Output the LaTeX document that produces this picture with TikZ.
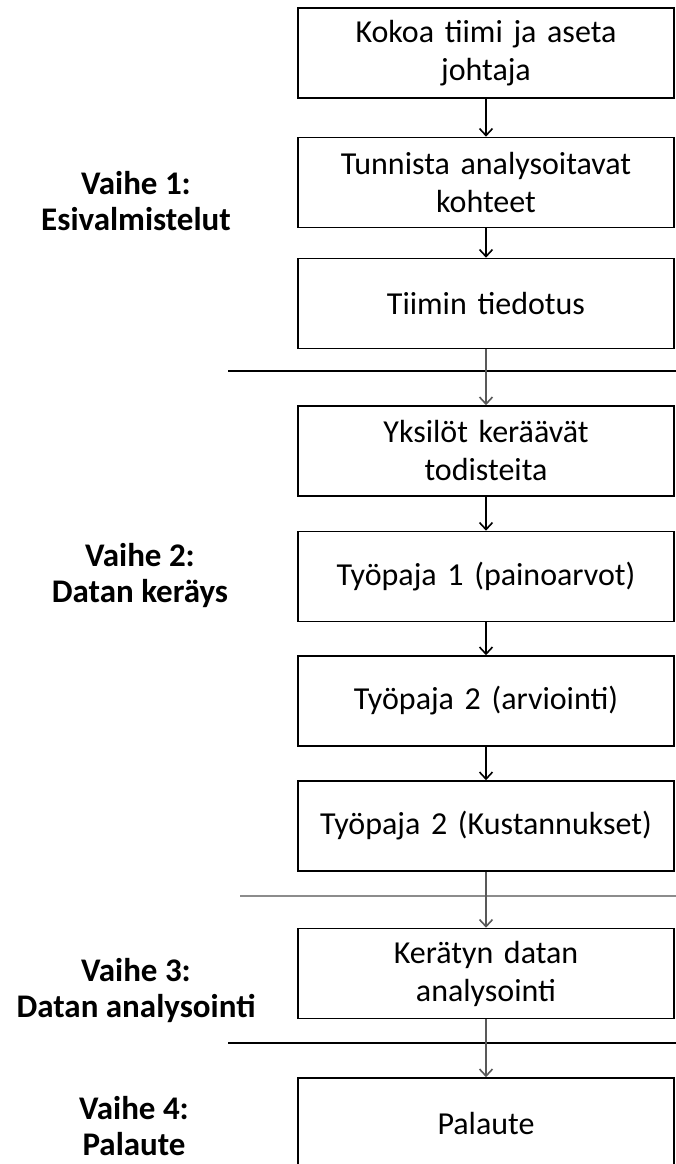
\documentclass[tikz,border=0pt]{standalone}
\usepackage{fontspec}
\setmainfont{Carlito}
\usetikzlibrary{arrows.meta}
\begin{document}
\begin{tikzpicture}[x=1pt,y=-1pt,
    stage/.style={draw, line width=1.6pt, minimum width=376pt, minimum height=90pt,
        text width=370pt, align=center, inner sep=0pt,
        font=\fontsize{32}{38}\selectfont},
    phase/.style={align=center, font=\fontsize{33}{36}\selectfont\bfseries},
    flow/.style={-{Straight Barb[length=7pt,width=13pt,line width=1.6pt]}, line width=1.3pt},
    split/.style={line width=1.5pt},
]
\clip (0,0) rectangle (676,1164);

% -----------------------------
% Stages
% -----------------------------
\node[stage] (team)    at (486,53)    {Kokoa tiimi ja aseta\\johtaja};
\node[stage] (targets) at (486,182.5) {Tunnista analysoitavat\\kohteet};
\node[stage] (inform)  at (486,303.5) {Tiimin tiedotus};

\node[stage] (collect) at (486,451)   {Yksilöt keräävät\\todisteita};
\node[stage] (ws1)     at (486,576.5) {Työpaja 1 (painoarvot)};
\node[stage] (ws2)     at (486,701)   {Työpaja 2 (arviointi)};
\node[stage] (ws3)     at (486,826)   {Työpaja 2 (Kustannukset)};

\node[stage] (analyse) at (486,973.5) {Kerätyn datan\\analysointi};

\node[stage] (feedback) at (486,1123) {Palaute};

% -----------------------------
% Phase separators
% -----------------------------
\draw[split] (228,371) -- (676,371);
\draw[split, black!45] (240,896) -- (676,896);
\draw[split] (228,1043) -- (676,1043);

% -----------------------------
% Arrows
% -----------------------------
\draw[flow] (team) -- (targets);
\draw[flow] (targets) -- (inform);
\draw[flow, black!65] (inform) -- (collect);
\draw[flow] (collect) -- (ws1);
\draw[flow] (ws1) -- (ws2);
\draw[flow] (ws2) -- (ws3);
\draw[flow, black!65] (ws3) -- (analyse);
\draw[flow, black!65] (analyse) -- (feedback);

% -----------------------------
% Phase labels
% -----------------------------
\node[phase] (p1) at (136,201)  {Vaihe 1:\\Esivalmistelut};
\node[phase] (p2) at (140,576)  {Vaihe 2:\\Datan keräys};
\node[phase] (p3) at (136,991)  {Vaihe 3:\\Datan analysointi};
\node[phase] (p4) at (134,1126) {Vaihe 4:\\Palaute};

\end{tikzpicture}
\end{document}
